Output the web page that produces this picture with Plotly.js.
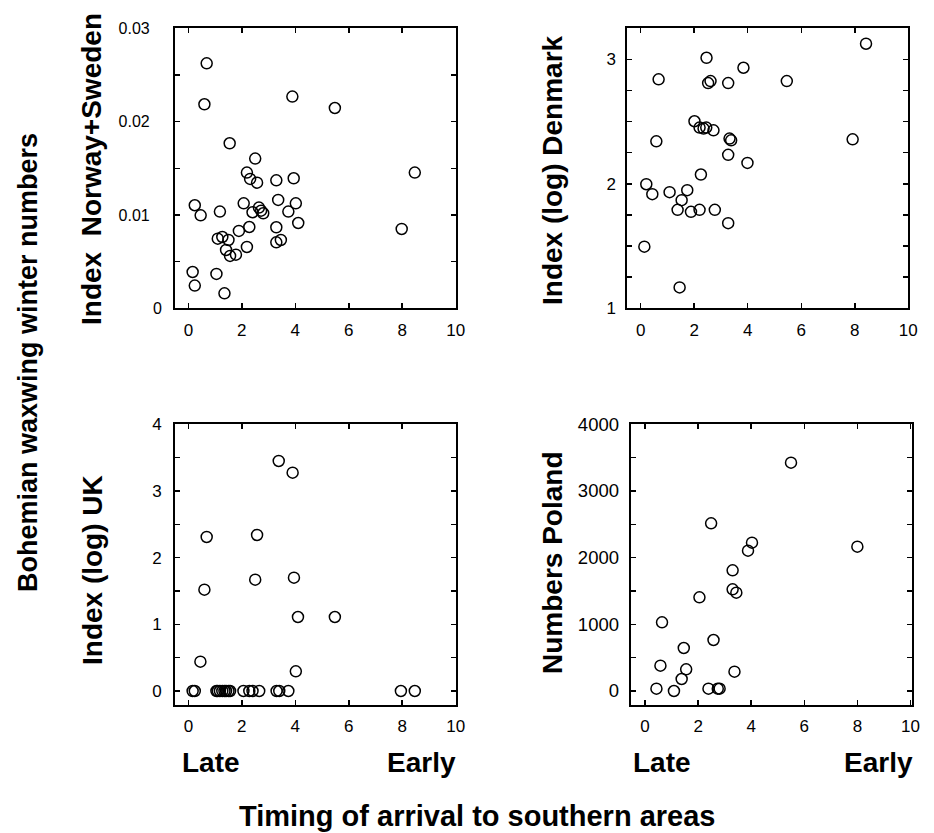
<!DOCTYPE html>
<html>
<head>
<meta charset="utf-8">
<script src="https://cdn.plot.ly/plotly-3.0.1.min.js"></script>
<style>
  html, body { margin: 0; padding: 0; background: #fff; }
  #chart { width: 934px; height: 833px; }
</style>
</head>
<body>
<div id="chart"></div>
<script>
// ---- Data ----
// Panel 1: Index Norway+Sweden
const nsX = [0.685, 0.60, 3.89, 5.48, 1.545, 2.50, 2.19, 2.31, 2.57, 3.29, 3.94, 8.47, 0.24, 0.46, 1.18, 2.07, 2.40, 2.64, 2.72, 2.80, 3.36, 3.74, 4.02, 4.11, 3.29, 2.28, 1.89, 1.10, 1.27, 1.50, 3.29, 3.46, 1.41, 2.19, 1.56, 1.78, 7.98, 0.16, 0.24, 1.05, 1.35];
const nsY = [0.02625, 0.02186, 0.02268, 0.02146, 0.01768, 0.01604, 0.01454, 0.01386, 0.01346, 0.01371, 0.01393, 0.01454, 0.01104, 0.00996, 0.01036, 0.01125, 0.01029, 0.01079, 0.01046, 0.01018, 0.01161, 0.01036, 0.01125, 0.00914, 0.00868, 0.00871, 0.00829, 0.00746, 0.00764, 0.00732, 0.00707, 0.00732, 0.00625, 0.00657, 0.00561, 0.00575, 0.0085, 0.00389, 0.00243, 0.00368, 0.0016];

// Panel 2: Index (log) Denmark
const dkX = [8.42, 2.46, 3.84, 0.67, 2.52, 2.61, 3.27, 5.46, 2.01, 2.20, 2.35, 2.45, 2.72, 3.32, 3.38, 0.585, 7.92, 3.27, 3.99, 2.25, 0.21, 0.435, 1.08, 1.74, 1.53, 1.38, 1.88, 2.20, 2.77, 3.27, 0.137, 1.455];
const dkY = [3.126, 3.013, 2.933, 2.840, 2.810, 2.826, 2.810, 2.826, 2.503, 2.452, 2.444, 2.452, 2.430, 2.364, 2.350, 2.342, 2.358, 2.233, 2.168, 2.075, 1.997, 1.917, 1.933, 1.949, 1.869, 1.791, 1.775, 1.791, 1.791, 1.684, 1.495, 1.168];

// Panel 3: Index (log) UK
const ukX = [3.38, 3.90, 0.685, 2.57, 2.50, 3.95, 0.60, 4.10, 5.48, 0.45, 4.02,
             0.16, 0.24, 1.05, 1.10, 1.18, 1.27, 1.35, 1.41, 1.50, 1.56, 2.06, 2.28, 2.40, 2.65, 3.30, 3.40, 3.74, 7.95, 8.47];
const ukY = [3.45, 3.275, 2.31, 2.34, 1.67, 1.70, 1.52, 1.11, 1.11, 0.44, 0.295,
             0, 0, 0, 0, 0, 0, 0, 0, 0, 0, 0, 0, 0, 0, 0, 0, 0, 0, 0];

// Panel 4: Numbers Poland
const plX = [5.50, 2.49, 8.0, 4.03, 3.88, 3.30, 3.30, 3.44, 2.05, 0.64, 2.58, 1.46, 0.58, 1.55, 3.37, 1.38, 0.43, 1.09, 2.39, 2.74, 2.81];
const plY = [3425, 2515, 2165, 2225, 2105, 1810, 1525, 1475, 1405, 1030, 765, 645, 380, 325, 290, 180, 35, 0, 35, 35, 35];

// Tick labels
const xTickVals = [0, 2, 4, 6, 8, 10];
const xTickText = ['0', '2', '4', '6', '8', '10'];
const nsTickVals = [0, 0.005, 0.01, 0.015, 0.02, 0.025, 0.03];
const nsTickText = ['0', '', '0.01\u00a0\u00a0\u2009', '', '0.02\u00a0\u00a0\u2009', '', '0.03\u00a0\u00a0\u2009'];
const dkTickVals = [1, 1.25, 1.5, 1.75, 2, 2.25, 2.5, 2.75, 3, 3.25];
const dkTickText = ['1', '', '', '', '2', '', '', '', '3', ''];
const ukTickVals = [0, 0.5, 1, 1.5, 2, 2.5, 3, 3.5, 4];
const ukTickText = ['0', '', '1', '', '2', '', '3', '', '4'];
const plTickVals = [0, 500, 1000, 1500, 2000, 2500, 3000, 3500, 4000];
const plTickText = ['0', '', '1000', '', '2000', '', '3000', '', '4000'];

// Text
const panelTitles = ['Index\u00a0\u00a0Norway+Sweden', 'Index (log) Denmark', 'Index (log) UK', 'Numbers Poland'];
const overallY = 'Bohemian waxwing winter numbers';
const overallX = 'Timing of arrival to southern areas';
const lateLabel = 'Late';
const earlyLabel = 'Early';

// ---- Layout helpers ----
const W = 934, H = 833;
const FONT = 'Liberation Sans, Arial, Helvetica, sans-serif';
const px = v => v / W;
const py = v => 1 - v / H;

function axis(extra, fsize) {
  return Object.assign({
    showgrid: false, zeroline: false, showline: true, linewidth: 2, linecolor: 'black',
    mirror: 'ticks', ticks: 'inside', ticklen: 5, tickwidth: 1.5, tickcolor: 'black',
    tickmode: 'array', tickfont: { family: FONT, size: fsize || 17, color: 'black' },
    fixedrange: true
  }, extra);
}

function scatter(x, y, xa, ya) {
  return {
    type: 'scatter', mode: 'markers', x: x, y: y, xaxis: xa, yaxis: ya,
    marker: { symbol: 'circle', size: 11, color: 'rgba(0,0,0,0)', line: { color: 'black', width: 1.5 } },
    hoverinfo: 'x+y', showlegend: false, cliponaxis: false
  };
}

const traces = [
  scatter(nsX, nsY, 'x', 'y'),
  scatter(dkX, dkY, 'x2', 'y2'),
  scatter(ukX, ukY, 'x3', 'y3'),
  scatter(plX, plY, 'x4', 'y4')
];

const topY = [py(308.3), py(28.3)];
const botY = [py(705), py(424.3)];

const layout = {
  width: W, height: H,
  margin: { l: 0, r: 0, t: 0, b: 0 },
  paper_bgcolor: 'white', plot_bgcolor: 'white',
  font: { family: FONT, color: 'black' },
  showlegend: false,
  xaxis:  axis({ domain: [px(175), px(455.7)], range: [-0.5, 10], tickvals: xTickVals, ticktext: xTickText, anchor: 'y', ticklabelstandoff: 5 }),
  yaxis:  axis({ domain: topY, range: [0, 0.03], tickvals: nsTickVals, ticktext: nsTickText, anchor: 'x', ticklabelstandoff: 8 }, 16),
  xaxis2: axis({ domain: [px(627.3), px(908.3)], range: [-0.5, 10], tickvals: xTickVals, ticktext: xTickText, anchor: 'y2', ticklabelstandoff: 5 }),
  yaxis2: axis({ domain: topY, range: [1, 3.25], tickvals: dkTickVals, ticktext: dkTickText, anchor: 'x2', ticklabelstandoff: 6 }),
  xaxis3: axis({ domain: [px(175), px(455.7)], range: [-0.5, 10], tickvals: xTickVals, ticktext: xTickText, anchor: 'y3', ticklabelstandoff: 5 }),
  yaxis3: axis({ domain: botY, range: [-0.21, 4], tickvals: ukTickVals, ticktext: ukTickText, anchor: 'x3', ticklabelstandoff: 8 }),
  xaxis4: axis({ domain: [px(630.7), px(912.3)], range: [-0.54, 10.07], tickvals: xTickVals, ticktext: xTickText, anchor: 'y4', ticklabelstandoff: 5 }),
  yaxis4: axis({ domain: botY, range: [-210, 4000], tickvals: plTickVals, ticktext: plTickText, anchor: 'x4', ticklabelstandoff: 6 }, 18.5),
  annotations: []
};

function ann(text, x, y, size, angle) {
  return {
    text: '<b>' + text + '</b>', xref: 'paper', yref: 'paper', x: px(x), y: py(y),
    xanchor: 'center', yanchor: 'middle', showarrow: false, textangle: angle || 0,
    font: { family: FONT, size: size, color: 'black' }
  };
}

layout.annotations.push(
  ann(panelTitles[0], 92, 169, 28, -90),
  ann(panelTitles[1], 552, 170, 28, -90),
  ann(panelTitles[2], 92, 570, 28, -90),
  ann(panelTitles[3], 552, 563, 28, -90),
  ann(overallY, 28, 363, 27, -90),
  ann(overallX, 477, 816, 29, 0),
  ann(lateLabel, 211, 762, 28, 0),
  ann(earlyLabel, 421, 762, 28, 0),
  ann(lateLabel, 662, 762, 28, 0),
  ann(earlyLabel, 878, 762, 28, 0)
);

Plotly.newPlot('chart', traces, layout, { staticPlot: true, displayModeBar: false });
</script>
</body>
</html>
